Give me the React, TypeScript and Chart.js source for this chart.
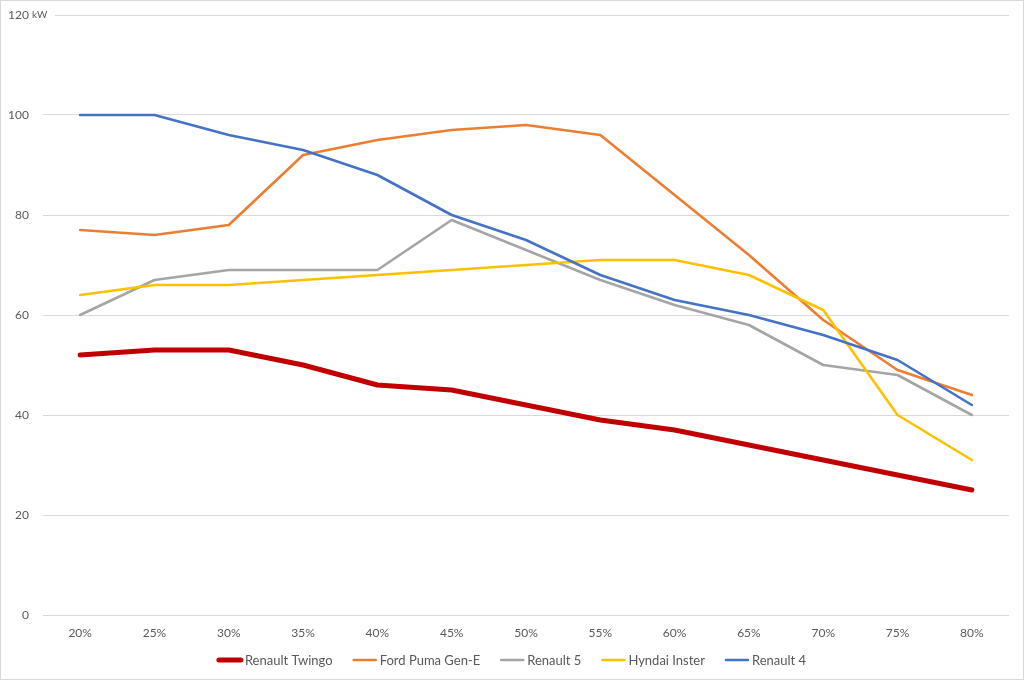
import React, { useEffect, useRef } from "react";
import { Chart, registerables } from "chart.js";

Chart.register(...registerables);

const categories = ["20%", "25%", "30%", "35%", "40%", "45%", "50%", "55%", "60%", "65%", "70%", "75%", "80%"];
const renaultTwingo = [52, 53, 53, 50, 46, 45, 42, 39, 37, 34, 31, 28, 25];
const fordPuma = [77, 76, 78, 92, 95, 97, 98, 96, 84, 72, 59, 49, 44];
const renault5 = [60, 67, 69, 69, 69, 79, 73, 67, 62, 58, 50, 48, 40];
const hyundaiInster = [64, 66, 66, 67, 68, 69, 70, 71, 71, 68, 61, 40, 31];
const renault4 = [100, 100, 96, 93, 88, 80, 75, 68, 63, 60, 56, 51, 42];
const seriesNames = ["Renault Twingo", "Ford Puma Gen-E", "Renault 5", "Hyndai Inster", "Renault 4"];
const yTicks = [0, 20, 40, 60, 80, 100, 120];
const unitLabel = "kW";

const FONT = "Lato, 'Open Sans', sans-serif";
const TEXT = "#595959";

export default function App() {
  const ref = useRef<HTMLCanvasElement | null>(null);
  useEffect(() => {
    document.body.style.margin = "0";
    const canvas = ref.current;
    if (!canvas) return;
    const customPlugin = {
      id: "customPlugin",
      afterDraw(chart: any) {
        const ctx = chart.ctx;
        const y = chart.scales.y;
        ctx.save();
        // y labels
        ctx.textBaseline = "middle";
        ctx.textAlign = "right";
        ctx.fillStyle = TEXT;
        ctx.font = `12px ${FONT}`;
        for (const v of yTicks) {
          const py = y.getPixelForValue(v);
          if (v === 120) {
            ctx.fillStyle = "#ffffff";
            ctx.fillRect(chart.chartArea.left - 2, py - 3, 14, 6);
            ctx.fillStyle = TEXT;
            ctx.textAlign = "right";
            ctx.font = `12px ${FONT}`;
            ctx.fillText(String(v), 28, py);
            ctx.textAlign = "left";
            ctx.font = `10px ${FONT}`;
            ctx.fillText(unitLabel, 31, py);
            ctx.textAlign = "right";
            ctx.font = `12px ${FONT}`;
          } else {
            ctx.fillText(String(v), 28, py);
          }
        }
        // legend
        ctx.font = `13px ${FONT}`;
        const sample = 24, gapText = 3, gapItem = 20;
        const metas = chart.data.datasets;
        const widths = metas.map((d: any) => ctx.measureText(d.label).width);
        const total = widths.reduce((s: number, w: number) => s + sample + gapText + w, 0) + gapItem * (metas.length - 1);
        let x = 511 - total / 2;
        const ly = 659;
        ctx.textAlign = "left";
        metas.forEach((d: any, i: number) => {
          ctx.strokeStyle = d.borderColor;
          ctx.lineWidth = d.borderWidth;
          ctx.lineCap = "round";
          ctx.beginPath();
          ctx.moveTo(x + 1, ly);
          ctx.lineTo(x + sample - 1, ly);
          ctx.stroke();
          ctx.fillStyle = TEXT;
          ctx.fillText(d.label, x + sample + gapText, ly + 0.5);
          x += sample + gapText + widths[i] + gapItem;
        });
        ctx.restore();
      },
    };
    const data = [renaultTwingo, fordPuma, renault5, hyundaiInster, renault4];
    const colors = ["#C00000", "#ED7D31", "#A5A5A5", "#FFC000", "#4472C4"];
    const widths = [5, 2.6, 2.6, 2.6, 2.6];
    const chart = new Chart(canvas, {
      type: "line",
      data: {
        labels: categories,
        datasets: data.map((d, i) => ({
          label: seriesNames[i],
          data: d,
          borderColor: colors[i],
          backgroundColor: colors[i],
          borderWidth: widths[i],
          pointRadius: 0,
          tension: 0,
          fill: false,
          order: 4 - i,
          borderCapStyle: "round" as const,
          borderJoinStyle: "round" as const,
        })),
      },
      options: {
        animation: false,
        responsive: false,
        maintainAspectRatio: false,
        layout: { padding: { top: 14, right: 14, left: 0, bottom: 30 } },
        plugins: {
          tooltip: { enabled: false },
          legend: { display: false },
        },
        scales: {
          x: {
            offset: true,
            grid: { display: false, drawTicks: false },
            border: { display: false },
            ticks: { color: TEXT, font: { family: FONT, size: 12 }, padding: 11 },
            afterFit: (s: any) => { s.height = 34; },
          },
          y: {
            min: 0,
            max: 120,
            afterBuildTicks: (s: any) => { s.ticks = yTicks.map((v) => ({ value: v })); },
            grid: { color: "#d9d9d9", drawTicks: false, lineWidth: 1 },
            border: { display: false },
            ticks: { display: false },
            afterFit: (s: any) => { s.width = 42; },
          },
        },
      },
      plugins: [customPlugin],
    });
    return () => chart.destroy();
  }, []);
  return (
    <div style={{ width: 1024, height: 680, boxSizing: "border-box", border: "1px solid #d9d9d9", background: "#fff" }}>
      <canvas ref={ref} width={1022} height={678} style={{ display: "block", width: 1022, height: 678 }} />
    </div>
  );
}
